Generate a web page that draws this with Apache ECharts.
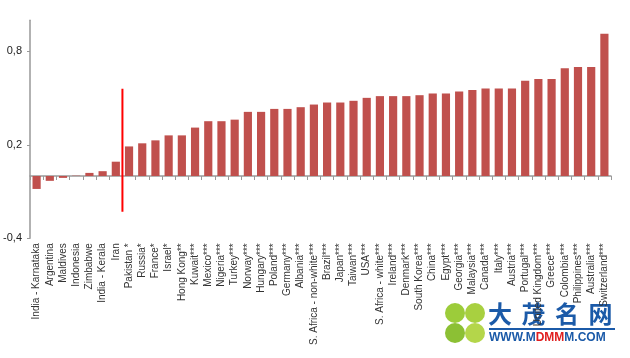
<!DOCTYPE html>
<html>
<head>
<meta charset="utf-8">
<script src="https://cdn.jsdelivr.net/npm/echarts@6/dist/echarts.min.js"></script>
<style>html,body{margin:0;padding:0;background:#fff;}#c{width:630px;height:358px;}</style>
</head>
<body>
<div id="c"></div>
<script>
const categories = ['India - Karnataka','Argentina','Maldives','Indonesia','Zimbabwe','India - Kerala','Iran','Pakistan *','Russia*','France*','Israel*','Hong Kong**','Kuwait***','Mexico***','Nigeria***','Turkey***','Norway***','Hungary***','Poland***','Germany***','Albania***','S. Africa - non-white***','Brazil***','Japan***','Taiwan***','USA***','S. Africa - white***','Ireland***','Denmark***','South Korea***','China***','Egypt***','Georgia***','Malaysia***','Canada***','Italy***','Austria***','Portugal***','United Kingdom***','Greece***','Colombia***','Philippines***','Australia***','Switzerland***'];
const values = [-0.083,-0.031,-0.012,0.002,0.02,0.031,0.092,0.19,0.21,0.229,0.261,0.261,0.311,0.352,0.352,0.362,0.412,0.412,0.431,0.431,0.442,0.459,0.472,0.472,0.483,0.502,0.513,0.513,0.513,0.519,0.53,0.53,0.543,0.552,0.562,0.562,0.562,0.612,0.623,0.623,0.692,0.70,0.70,0.913];
const yTicks = [-0.4, 0.2, 0.8];
const dividerLine = [[7, -0.23], [7, 0.56]];
const watermarkChars = ['大','茂','名','网'];

const chart = echarts.init(document.getElementById('c'));
const graphics = [
  {type: 'circle', shape: {cx: 455, cy: 313, r: 10}, style: {fill: '#9ccc3a'}},
  {type: 'circle', shape: {cx: 475, cy: 313, r: 10}, style: {fill: '#a8d040'}},
  {type: 'circle', shape: {cx: 455, cy: 333, r: 10}, style: {fill: '#8cc034'}},
  {type: 'circle', shape: {cx: 475, cy: 333, r: 10}, style: {fill: '#b4d64a'}},
  {type: 'rect', shape: {x: 489, y: 328, width: 126, height: 2}, style: {fill: '#1b5aa8'}},
  {type: 'text', left: 489, top: 332, style: {
    text: '{b|WWW.M}{r|DMM}{b|M.COM}',
    rich: {b: {fontSize: 12, fontWeight: 'bold', fill: '#1b5aa8', fontFamily: 'Liberation Sans'},
           r: {fontSize: 12, fontWeight: 'bold', fill: '#e02020', fontFamily: 'Liberation Sans'}}}}
];
watermarkChars.forEach((ch, i) => {
  graphics.push({type: 'text', left: 488 + i * 33.5, top: 302,
    style: {text: ch, fontSize: 24, fontWeight: 'bold', fill: '#1b5aa8', fontFamily: 'Noto Sans CJK SC'}});
});
chart.setOption({
  animation: false,
  grid: {left: 30, right: 19, top: 20.3, bottom: 119.7, containLabel: false},
  xAxis: [
    {type: 'category', data: categories, position: 'bottom',
     axisLine: {show: false, onZero: false}, axisTick: {show: false},
     axisLabel: {rotate: 90, interval: 0, margin: 5, fontSize: 10, color: '#333', fontFamily: 'Liberation Sans'}},
    {type: 'category', data: categories, position: 'bottom',
     axisLine: {show: true, onZero: true, lineStyle: {color: '#999', width: 1.5}},
     axisTick: {show: true, interval: 0, length: 4, inside: false, lineStyle: {color: '#999', width: 1}},
     axisLabel: {show: false}},
    {type: 'value', min: 0, max: categories.length, show: false}
  ],
  yAxis: {
    type: 'value', min: -0.4, max: 1.0,
    axisLine: {show: true, lineStyle: {color: '#999', width: 1.5}},
    axisTick: {show: true, length: 3, customValues: yTicks, lineStyle: {color: '#999'}},
    axisLabel: {customValues: yTicks, fontSize: 11, color: '#222', margin: 8, fontFamily: 'Liberation Sans',
      formatter: v => String(Math.round(v*10)/10).replace('.', ',')},
    splitLine: {show: false}
  },
  series: [
    {type: 'bar', data: values, xAxisIndex: 0, barCategoryGap: '38%',
     itemStyle: {color: '#c0504d'}},
    {type: 'line', data: dividerLine, xAxisIndex: 2, symbol: 'none',
     lineStyle: {color: '#ff0000', width: 2}, z: 5}
  ],
  graphic: graphics
});
</script>
</body>
</html>
